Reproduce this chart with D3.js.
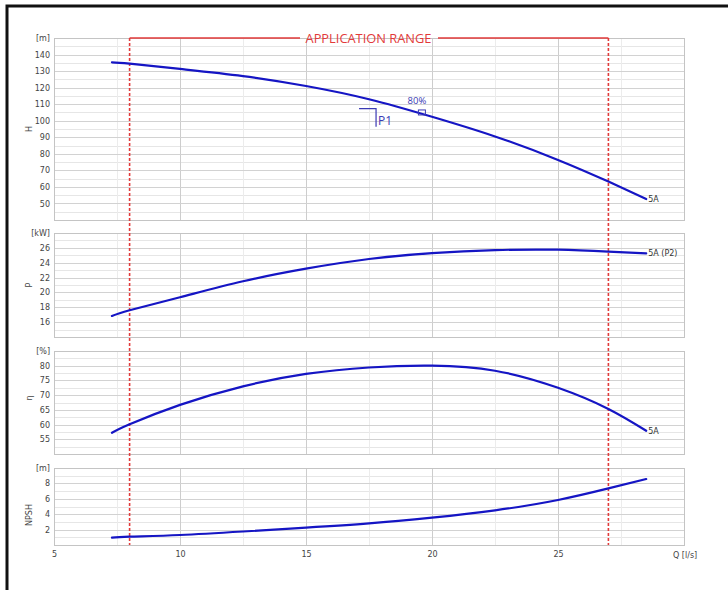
<!DOCTYPE html>
<html><head><meta charset="utf-8">
<script src="https://cdn.jsdelivr.net/npm/d3@7"></script>
<style>body{margin:0;background:#fff}svg{display:block}</style>
</head><body><svg id="c" width="728" height="590"></svg>
<script>
// ---- data ----
const flowQ = [7.3, 8, 10, 12.5, 15, 17.5, 20, 22.5, 25, 27, 28.5];
const headH = [135.3, 134.5, 131.3, 127.0, 121.0, 113.0, 102.4, 90.5, 76.3, 63.2, 52.7];
const powerP = [16.83, 17.6, 19.35, 21.5, 23.2, 24.5, 25.3, 25.7, 25.75, 25.5, 25.25];
const effEta = [57.2, 60.1, 66.7, 73.0, 77.2, 79.4, 80.0, 78.3, 72.5, 65.3, 57.9];
const npsh = [0.95, 1.08, 1.3, 1.75, 2.25, 2.8, 3.55, 4.5, 5.85, 7.35, 8.57];
const xTicks = [5, 10, 15, 20, 25];
const appRange = [8, 27];
const p1Point = [17.78, 107.3];
const eff80Point = [19.6, 105.0];
const hTicks = [50, 60, 70, 80, 90, 100, 110, 120, 130, 140];
const pTicks = [16, 18, 20, 22, 24, 26];
const etaTicks = [55, 60, 65, 70, 75, 80];
const npshTicks = [2, 4, 6, 8];

(function () {
const svg = d3.select("#c");
const FONT = "'DejaVu Sans', Verdana, sans-serif";
const BLUE = "#1515c4";
const RED = "#e23a3a";

svg.append("rect").attr("x", 7).attr("y", 6).attr("width", 740).attr("height", 600)
  .attr("fill", "none").attr("stroke", "#111").attr("stroke-width", 3);

const x = d3.scaleLinear().domain([5, 30]).range([54, 684]);

const panels = [
  {key: "H", vals: headH, domain: [40, 150], range: [220, 38], ticks: hTicks, minor: 5, unit: "[m]", title: "H", ty: 129, label: "5A"},
  {key: "P", vals: powerP, domain: [14, 28], range: [337, 233], ticks: pTicks, minor: 1, unit: "[kW]", title: "P", ty: 285, label: "5A (P2)"},
  {key: "eta", vals: effEta, domain: [50, 85], range: [454, 351], ticks: etaTicks, minor: 2.5, unit: "[%]", title: "η", ty: 398, label: "5A"},
  {key: "npsh", vals: npsh, domain: [0, 10], range: [545, 468], ticks: npshTicks, minor: 1, unit: "[m]", title: "NPSH", ty: 515, label: null}
];

const line = (y, vals) => d3.line().x((d, i) => x(flowQ[i])).y((d) => y(d)).curve(d3.curveNatural)(vals);

panels.forEach(p => {
  const y = d3.scaleLinear().domain(p.domain).range(p.range);
  p.y = y;
  const g = svg.append("g");
  const minors = d3.range(p.domain[0] + p.minor, p.domain[1], p.minor)
    .filter(v => !p.ticks.some(t => Math.abs(t - v) < 1e-6));
  g.selectAll(".hm").data(minors).join("line")
    .attr("x1", x(5)).attr("x2", x(30)).attr("y1", d => Math.round(y(d)) + 0.5).attr("y2", d => Math.round(y(d)) + 0.5)
    .attr("stroke", "#e6e6e6").attr("stroke-width", 1);
  const vg = d3.range(7.5, 30, 2.5);
  g.selectAll(".vg").data(vg).join("line")
    .attr("x1", d => Math.round(x(d)) + 0.5).attr("x2", d => Math.round(x(d)) + 0.5)
    .attr("y1", p.range[1]).attr("y2", p.range[0])
    .attr("stroke", d => (d % 5 === 0) ? "#cdcdcd" : "#ececec").attr("stroke-width", 1);
  g.selectAll(".hg").data(p.ticks).join("line")
    .attr("x1", x(5)).attr("x2", x(30)).attr("y1", d => Math.round(y(d)) + 0.5).attr("y2", d => Math.round(y(d)) + 0.5)
    .attr("stroke", "#d2d2d2").attr("stroke-width", 1);
  g.append("rect").attr("x", x(5) + 0.5).attr("y", p.range[1] + 0.5)
    .attr("width", x(30) - x(5)).attr("height", p.range[0] - p.range[1])
    .attr("fill", "none").attr("stroke", "#c4c4c4");
  const ax = svg.append("g").attr("transform", `translate(${x(5) - 4},0)`)
    .call(d3.axisLeft(y).tickValues(p.ticks).tickSize(0).tickPadding(0));
  ax.select(".domain").remove();
  ax.selectAll("text").attr("font-family", FONT).attr("font-size", 8).attr("fill", "#444");
  svg.append("text").attr("x", x(5) - 4).attr("y", p.range[1] + 3).attr("text-anchor", "end")
    .attr("font-family", FONT).attr("font-size", 8).attr("fill", "#444").text(p.unit);
  svg.append("text").attr("transform", `translate(32,${p.ty}) rotate(-90)`).attr("text-anchor", "middle")
    .attr("font-family", FONT).attr("font-size", 8).attr("fill", "#444").text(p.title);
});

const yTop = panels[0].range[1], yBottom = panels[3].range[0];
appRange.forEach(v => {
  svg.append("line").attr("x1", x(v)).attr("x2", x(v)).attr("y1", yTop).attr("y2", yBottom)
    .attr("stroke", RED).attr("stroke-width", 1.6).attr("stroke-dasharray", "3,2");
});
svg.append("line").attr("x1", x(appRange[0])).attr("x2", 300).attr("y1", yTop).attr("y2", yTop)
  .attr("stroke", RED).attr("stroke-width", 1.6);
svg.append("line").attr("x1", 438).attr("x2", x(appRange[1])).attr("y1", yTop).attr("y2", yTop)
  .attr("stroke", RED).attr("stroke-width", 1.6);
svg.append("text").attr("x", 368.5).attr("y", yTop + 4.5).attr("text-anchor", "middle")
  .attr("font-family", "'Open Sans', sans-serif").attr("font-size", 12.5).attr("fill", RED)
  .attr("textLength", 126).attr("lengthAdjust", "spacingAndGlyphs").text("APPLICATION RANGE");

panels.forEach(p => {
  svg.append("path").attr("d", line(p.y, p.vals)).attr("fill", "none")
    .attr("stroke", BLUE).attr("stroke-width", 2.2).attr("stroke-linecap", "round");
  if (p.label) {
    const last = p.vals.length - 1;
    svg.append("text").attr("x", x(flowQ[last]) + 2).attr("y", p.y(p.vals[last]) + 3)
      .attr("font-family", FONT).attr("font-size", 8).attr("fill", "#333").text(p.label);
  }
});

const yH = panels[0].y;
const px = x(p1Point[0]), py = yH(p1Point[1]);
svg.append("path").attr("d", `M${px - 17},${py}H${px}V${py + 18}`).attr("fill", "none")
  .attr("stroke", "#3a3ab4").attr("stroke-width", 1.2);
svg.append("text").attr("x", px + 2).attr("y", py + 16).attr("font-family", "'Open Sans', sans-serif")
  .attr("font-size", 12).attr("fill", "#3a3ab4").text("P1");

const ex = x(eff80Point[0]), ey = yH(eff80Point[1]);
svg.append("rect").attr("x", ex - 3.5).attr("y", ey - 2.5).attr("width", 7).attr("height", 5)
  .attr("fill", "none").attr("stroke", "#3a3ab4").attr("stroke-width", 1);
svg.append("text").attr("x", ex - 5).attr("y", ey - 8).attr("text-anchor", "middle")
  .attr("font-family", "'Open Sans', sans-serif").attr("font-size", 9.5).attr("fill", "#3a3ab4").text("80%");

const xa = svg.append("g").attr("transform", `translate(0,${yBottom + 6})`)
  .call(d3.axisBottom(x).tickValues(xTicks).tickSize(0).tickPadding(0));
xa.select(".domain").remove();
xa.selectAll("text").attr("font-family", FONT).attr("font-size", 8).attr("fill", "#444");
svg.append("text").attr("x", 673).attr("y", yBottom + 13).attr("font-family", FONT)
  .attr("font-size", 8).attr("fill", "#444").text("Q [l/s]");
})();
</script></body></html>
